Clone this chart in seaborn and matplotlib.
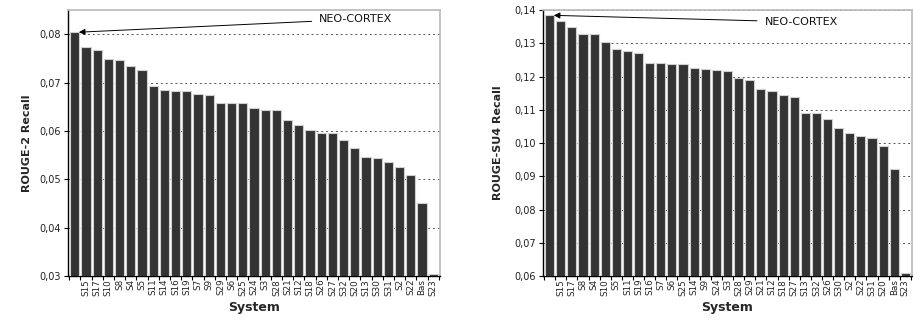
import matplotlib
matplotlib.use("Agg")
import matplotlib.pyplot as plt
import seaborn as sns
import numpy as np
import pandas as pd
from matplotlib.ticker import FuncFormatter, FixedLocator

# ---- data ----
left_systems = ["NEO-CORTEX", "S15", "S17", "S10", "S8", "S4", "S5", "S11", "S14", "S16", "S19",
                "S7", "S9", "S29", "S6", "S25", "S24", "S3", "S28", "S21", "S12", "S18",
                "S26", "S27", "S32", "S20", "S13", "S30", "S31", "S2", "S22", "Bas", "S23"]
left_values = [0.0804, 0.0774, 0.0768, 0.0748, 0.0746, 0.0735, 0.0725, 0.0692, 0.0684, 0.0683, 0.0683,
               0.0677, 0.0674, 0.0657, 0.0657, 0.0657, 0.0647, 0.0643, 0.0643, 0.0622, 0.0612, 0.0602,
               0.0595, 0.0595, 0.0582, 0.0564, 0.0546, 0.0544, 0.0535, 0.0526, 0.0509, 0.0450, 0.0304]

right_systems = ["NEO-CORTEX", "S15", "S17", "S8", "S4", "S10", "S5", "S11", "S19", "S16", "S7",
                 "S6", "S25", "S14", "S9", "S24", "S3", "S28", "S29", "S21", "S12", "S18",
                 "S27", "S13", "S32", "S26", "S30", "S2", "S22", "S31", "S20", "Bas", "S23"]
right_values = [0.1384, 0.1366, 0.1348, 0.1329, 0.1327, 0.1303, 0.1284, 0.1277, 0.1270, 0.1242, 0.1242,
                0.1239, 0.1239, 0.1227, 0.1224, 0.1220, 0.1218, 0.1195, 0.1189, 0.1162, 0.1157, 0.1145,
                0.1137, 0.1090, 0.1090, 0.1073, 0.1044, 0.1031, 0.1022, 0.1016, 0.0990, 0.0921, 0.0608]

left_yticks = [0.03, 0.04, 0.05, 0.06, 0.07, 0.08]
right_yticks = [0.06, 0.07, 0.08, 0.09, 0.10, 0.11, 0.12, 0.13, 0.14]
left_ylabel = "ROUGE-2 Recall"
right_ylabel = "ROUGE-SU4 Recall"
xlabel = "System"
highlight = "NEO-CORTEX"

sns.set_theme(style="white")
plt.rcParams['font.family'] = ['DejaVu Sans']

fig = plt.figure(figsize=(9.13, 3.2), dpi=100)
ax1 = fig.add_axes([68/913, 1-276/320, (440-68)/913, 266/320])
ax2 = fig.add_axes([543/913, 1-276/320, (912-543)/913, 266/320])

fmt = FuncFormatter(lambda v, p: f"{v:.2f}".replace(".", ","))


def draw(ax, systems, values, yticks, ylim, ylabel, text_xy, ylabelpad):
    df = pd.DataFrame({"system": systems, "value": values})
    sns.barplot(data=df, x="system", y="value", order=systems, ax=ax,
                color="#333333", saturation=1, width=0.82,
                edgecolor="#d0d0d0", linewidth=0.8, zorder=3)
    ax.set_ylim(*ylim)
    ax.set_xlim(-0.6, len(systems) - 0.4)
    ax.set_yticks(yticks)
    ax.yaxis.set_major_formatter(fmt)
    ax.tick_params(axis="y", labelsize=7, length=3, width=0.8, direction="out",
                   left=True, color="black", pad=2, labelcolor="#222222")
    labels = ["" if s == highlight else s for s in systems]
    ax.set_xticks(range(len(systems)))
    ax.set_xticklabels(labels, rotation=90, fontsize=6.3, color="#222222")
    ax.tick_params(axis="x", which="major", length=0, pad=2)
    ax.xaxis.set_minor_locator(FixedLocator(np.arange(len(systems) + 1) - 0.5))
    ax.tick_params(axis="x", which="minor", length=3, width=0.8, bottom=True, color="black")
    for y in yticks[1:]:
        ax.axhline(y, color="#555555", linestyle=(0, (2, 3)), linewidth=0.7, zorder=1)
    ax.spines["left"].set_color("black")
    ax.spines["bottom"].set_color("black")
    ax.spines["left"].set_linewidth(1.0)
    ax.spines["bottom"].set_linewidth(1.0)
    ax.spines["top"].set_color("#bbbbbb")
    ax.spines["right"].set_color("#bbbbbb")
    ax.set_ylabel(ylabel, fontsize=8, fontweight="bold", labelpad=ylabelpad)
    ax.set_xlabel(xlabel, fontsize=9, fontweight="bold", labelpad=4)
    ax.annotate(highlight, xy=(0.25, values[0]), xycoords="data",
                xytext=text_xy, textcoords="axes fraction",
                fontsize=8, ha="left", va="center", color="#111111",
                arrowprops=dict(arrowstyle="-|>", color="black", lw=0.7,
                                mutation_scale=9, shrinkA=3, shrinkB=1))


draw(ax1, left_systems, left_values, left_yticks, (0.03, 0.085), left_ylabel, (0.675, 0.965), 5)
draw(ax2, right_systems, right_values, right_yticks, (0.06, 0.14), right_ylabel, (0.6, 0.955), 8)

fig.savefig("out.png", dpi=100)
